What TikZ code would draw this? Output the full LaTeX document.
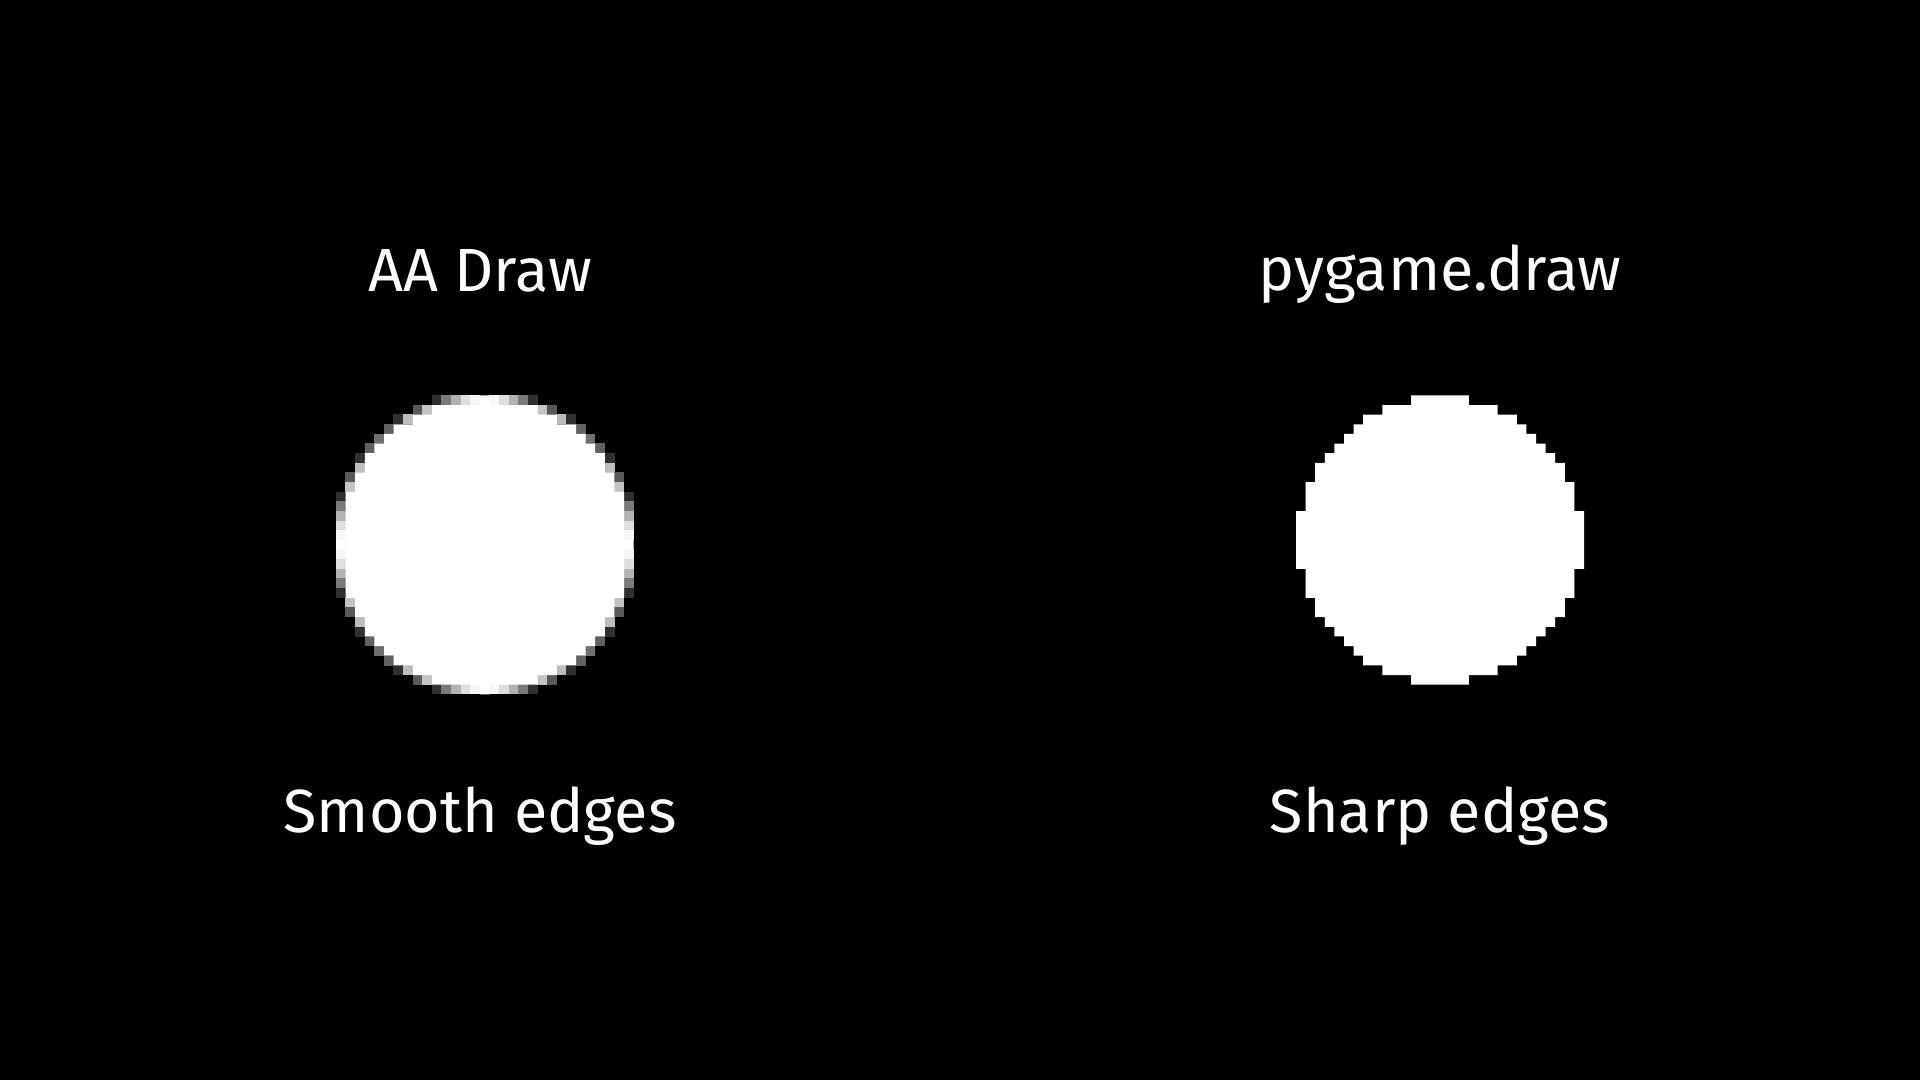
\documentclass[tikz,border=0pt]{standalone}
\usepackage{fontspec}
\setmainfont{Fira Sans}
\begin{document}
\begin{tikzpicture}[x=0.5pt,y=-0.5pt,
  lbl/.style={text=white,anchor=base,inner sep=0pt,font=\fontsize{30.5pt}{36pt}\selectfont}]
\def\cw{9.6}
\def\ch{9.642857}
\fill[black] (0,0) rectangle (1920,1080);
\useasboundingbox (0,0) rectangle (1920,1080);
% left anti-aliased circle: centre of cell (50,56)
\foreach \i in {-16,...,16}{
  \foreach \j in {-16,...,16}{
    \pgfmathsetmacro\v{max(0,min(1,16-sqrt(\i*\i+\j*\j)))}
    \ifdim\v pt>0.001pt\relax
      \ifdim\v pt<0.999pt\relax
        \pgfmathtruncatemacro\p{round(100*\v)}
        \fill[white!\p!black] ({(50+\i)*\cw-0.2},{(56+\j)*\ch-0.2}) rectangle ({(51+\i)*\cw+0.2},{(57+\j)*\ch+0.2});
      \fi
    \fi
  }
}
\fill[white] \foreach \k/\w in {0/15,1/14,2/14,3/14,4/14,5/14,6/13,7/13,8/12,9/12,10/11,11/10,12/9,13/7,14/5,15/0}{
  ({(50-\w)*\cw},{(56-\k)*\ch}) rectangle ({(51+\w)*\cw},{(57-\k)*\ch})
  ({(50-\w)*\cw},{(56+\k)*\ch}) rectangle ({(51+\w)*\cw},{(57+\k)*\ch})
};
\coordinate (lc) at ({50.5*\cw},{56.5*\ch});
% right aliased circle: centre at cell corner (150,56)
\fill[white] \foreach \k/\h in {14/3,13/6,12/8,11/9,10/10,9/11,8/12,7/13,6/13,5/14,4/14,3/14,2/15,1/15,0/15}{
  ({(150-\h)*\cw},{(55-\k)*\ch}) rectangle ({(150+\h)*\cw},{(56-\k)*\ch})
  ({(150-\h)*\cw},{(56+\k)*\ch}) rectangle ({(150+\h)*\cw},{(57+\k)*\ch})
};
\coordinate (rc) at ({150*\cw},{56*\ch});
% labels
\node[lbl] (t1) at (480,292) {AA Draw};
\node[lbl] (b1) at (480,832) {Smooth edges};
\node[lbl] (t2) at (1440,291) {pygame.draw};
\node[lbl] (b2) at (1440,832) {Sharp edges};
\end{tikzpicture}
\end{document}
